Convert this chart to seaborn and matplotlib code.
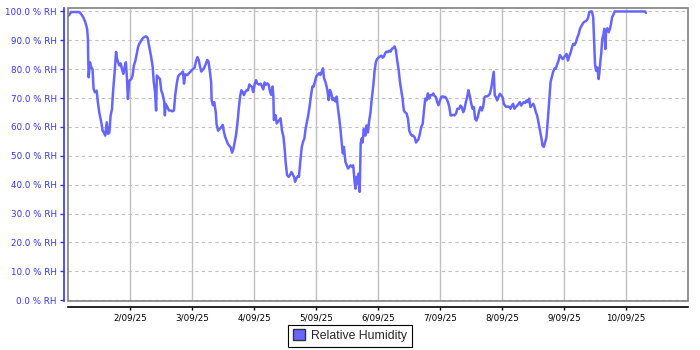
import numpy as np
import pandas as pd
import matplotlib
matplotlib.use("Agg")
import matplotlib.pyplot as plt
import matplotlib.dates as mdates
import seaborn as sns
from matplotlib.patches import Patch, Rectangle
from matplotlib.ticker import FuncFormatter

# hours since 1/09/25 00:00
hours = [
    0, 0.5, 1.2, 4.4, 5.0, 5.9, 6.7, 7.4, 7.7, 7.8, 8.0, 8.5, 9.0, 9.5, 9.9, 10.4, 11.1, 11.5, 12.1, 12.8,
    13.4, 13.9, 14.4, 15.0, 15.5, 16.0, 16.5, 17.0, 17.5, 18.1, 18.6, 19.0, 19.4, 19.9, 20.4, 20.9, 21.4,
    21.9, 22.4, 22.8, 23.2, 23.7, 24.5, 25.0, 25.5, 26.1, 26.6, 27.1, 27.6, 28.4, 29.1, 30.2, 30.8, 31.5,
    32.1, 32.8, 33.2, 33.7, 34.1, 34.4, 34.9, 35.6, 36.1, 36.6, 37.2, 37.5,
    37.8, 38.4, 39.1, 39.7, 40.4, 41.0, 41.5, 42.1, 42.6, 43.2, 43.9, 44.5, 44.9, 45.4, 46.2, 46.8, 47.5,
    48.3, 49.0, 49.5, 50.1, 50.6, 51.1, 51.6, 52.1, 52.6, 53.2, 53.9, 54.4, 55.0, 55.4, 55.6, 56.1, 56.6,
    57.2, 57.5, 58.1, 58.7, 59.3, 59.9, 60.4, 60.9, 61.4, 61.9, 62.4, 63.0, 63.5, 64.0, 64.5, 65.0, 65.5,
    66.1, 66.6, 67.1, 67.6, 68.1, 68.6, 69.2, 69.7, 70.2, 70.7, 71.2, 71.7, 72.3, 72.8, 73.3, 73.9, 74.6,
    75.6, 76.1, 76.6, 77.2, 77.7, 78.2, 78.7, 79.2, 79.5, 79.7, 80.3, 80.8, 81.3, 81.8, 82.3, 82.8, 83.4,
    83.9, 84.3, 84.8, 85.4, 85.9, 86.5, 87.0, 87.5, 87.9, 88.4, 88.9, 89.4, 89.9, 90.5, 91.0, 91.5, 92.0,
    92.5, 93.0, 93.5, 94.1, 94.6, 95.1, 95.6, 96.1, 96.6, 97.2, 97.7, 98.2, 98.7, 99.1, 99.6, 100.1, 100.5,
    100.9, 101.4, 101.9, 102.4, 103.0, 103.5, 104.0, 104.5, 105.0, 105.5, 106.1, 106.4, 106.8, 107.4,
    107.9, 108.4, 108.9, 109.4, 109.9, 110.4, 111.0, 111.3, 111.7, 112.1, 112.5, 112.9, 113.3, 113.7,
    114.0, 114.5, 115.1, 115.6, 116.1, 116.6, 117.1, 117.6, 118.2, 118.7, 119.2, 119.7, 120.2, 120.7,
    121.3, 121.8, 122.3, 122.8, 123.3, 123.8, 124.4, 124.9, 125.4, 125.9, 126.4, 126.9, 127.4, 128.0,
    128.5, 129.0, 129.5, 130.0, 130.5, 131.1, 131.6, 132.1, 132.6, 133.1, 133.6, 134.2, 134.7, 135.2,
    135.7, 136.2, 136.7, 137.3, 137.8, 138.3, 138.8, 139.3, 139.8, 140.3, 140.9, 141.4, 141.9, 142.4,
    142.9, 143.4, 144.0, 144.5, 145.0, 145.5, 146.0, 146.5, 147.1, 147.6, 148.1, 148.6, 149.1, 149.6,
    150.2, 150.7,
    151.4, 151.9, 152.4, 153.0, 153.5, 154.0, 154.5, 155.0, 155.5, 156.1, 156.6, 157.1, 157.6, 158.1,
    158.6, 159.2, 159.7, 160.2, 160.7, 161.2, 161.7, 162.3, 162.8, 163.3, 163.8, 164.3, 164.8, 165.2,
    165.7, 166.1, 166.6, 167.2, 167.7, 168.2, 168.7, 169.2, 169.7, 170.3, 170.8, 171.3, 171.8, 172.3,
    172.8, 173.3, 173.9, 174.4, 174.9, 175.4, 175.9, 176.4, 177.0, 177.5, 178.0, 178.5, 179.0, 179.5,
    180.1, 180.6, 181.1, 181.6, 182.1, 182.6, 183.2, 183.7, 184.2, 184.7, 185.2, 185.7, 186.2, 186.8,
    187.3, 187.8, 188.3, 188.8,
    189.4, 189.9, 190.4, 191.0, 191.5, 192.0, 192.5, 193.0, 193.5, 194.1, 194.6, 195.1, 195.6, 196.1,
    196.6, 197.2, 197.7, 198.2, 198.7, 199.2, 199.7, 200.3, 200.8, 201.3, 201.8, 202.3, 202.8, 203.3,
    203.7, 204.0, 204.4, 204.9, 205.4, 205.7, 206.1, 206.4, 206.8, 207.2, 207.6, 208.0, 208.3, 208.8,
    209.3, 209.8, 210.2, 210.6, 211.1, 211.6, 223.4, 223.7,
]

rh = [
    98.5, 98.8, 99.8, 99.8, 99.2, 98.0, 96.3, 94.0, 90.5, 84.7, 77.2, 82.4, 80.7, 80.0, 73.2, 72.0, 72.6, 69.0, 65.0, 62.0,
    58.7, 58.0, 57.0, 61.6, 57.6, 58.0, 64.0, 66.0, 73.0, 79.5, 86.0, 83.6, 82.4, 81.3, 82.0, 80.0, 78.4,
    80.7, 82.4, 77.2, 69.7, 76.0, 76.6, 77.8, 81.3, 83.0, 85.3, 87.6, 88.8, 90.0, 90.9, 91.4, 90.9, 87.6,
    84.7, 80.7, 75.5, 72.0, 65.7, 77.8, 77.2, 76.6, 72.6, 71.4, 69.0, 64.0,
    68.0, 67.0, 65.7, 65.7, 65.4, 65.7, 71.0, 75.0, 77.4, 78.2, 78.6, 79.2, 75.0, 78.2, 78.0, 78.6, 79.2,
    80.0, 80.5, 82.6, 84.2, 83.2, 80.9, 79.2, 79.7, 80.3, 81.5, 83.2, 82.6, 78.6, 75.6, 69.2, 67.5, 68.6,
    65.1, 61.0, 58.7, 59.3, 59.9, 60.7, 58.1, 56.4, 55.2, 54.1, 53.5, 52.9, 51.1, 52.3, 54.6, 57.0, 60.5,
    66.3, 70.4, 72.7, 72.1, 71.0, 72.1, 72.7, 72.7, 74.7, 74.2, 73.9, 72.1, 75.0, 76.2, 75.0, 74.7, 75.0,
    73.0, 75.4, 74.6, 75.1, 74.6, 72.2, 71.1, 74.0, 70.5, 62.4, 64.1, 61.2, 61.8, 62.4, 63.0, 58.9, 56.6,
    52.0, 47.3, 43.3, 42.7, 43.3, 44.4, 43.6, 42.7, 41.0, 42.1, 42.9, 42.7, 47.9, 53.1, 54.9, 56.0, 59.5,
    61.8, 64.1, 67.0, 71.1, 74.0, 74.0, 75.7, 77.5, 78.0, 78.6, 78.0, 79.2, 80.3, 76.9, 75.7, 74.0, 72.2,
    69.3, 72.8, 71.7, 69.3, 69.9, 68.8, 70.5, 66.4, 63.0, 58.9, 53.1, 50.8, 53.1, 47.9,
    46.7, 45.6, 46.2, 46.7, 46.2, 46.7, 40.4, 38.6, 42.7, 40.4, 43.8, 37.5, 54.3, 56.0,
    54.6, 59.3, 57.0, 60.5, 58.1, 62.2, 65.1, 69.8, 74.5, 79.7, 82.6, 83.6, 84.0, 84.4,
    84.7, 84.0, 84.4, 85.6, 86.1, 85.9, 86.4, 86.1, 87.1, 87.3, 87.9, 86.7, 83.2, 79.7,
    75.6, 72.7, 69.8, 65.7, 65.1, 64.6, 62.8, 58.7, 57.6, 57.0, 57.0, 56.4, 54.6, 55.2,
    55.8, 57.6, 59.9, 61.1, 65.7, 69.8, 69.2, 71.6, 69.8, 71.0, 71.0, 71.6, 70.7, 70.4,
    68.6, 67.5, 69.2, 70.4, 70.6, 70.4, 70.4, 69.8, 68.6, 66.9, 64.0, 64.0, 64.2, 64.0,
    64.6, 66.3,
    66.3, 67.4, 66.9, 65.1, 66.3, 68.6, 70.3, 72.7, 70.9, 68.0, 66.3, 66.9, 62.8, 62.2,
    63.4, 65.7, 66.9, 65.7, 66.9, 70.3, 70.6, 70.6, 70.9, 71.5, 73.3, 76.2, 79.1, 70.9,
    70.3, 69.2, 70.3, 71.5, 70.9, 70.3, 68.0, 67.4, 66.9, 67.1, 66.9, 66.3, 67.4, 68.0,
    66.3, 66.9, 67.4, 68.0, 68.6, 67.4, 68.0, 68.6, 68.3, 69.2, 68.6, 69.8, 66.9, 67.4,
    68.0, 66.9, 65.1, 64.0, 61.6, 59.3, 56.4, 53.5, 53.1, 54.7, 56.4, 62.2, 68.0, 75.6,
    77.3, 79.1, 80.2, 80.2,
    81.8, 83.0, 84.9, 84.1, 83.5, 84.1, 84.7, 85.3, 83.0, 84.7, 85.9, 87.6, 88.8, 88.4,
    89.3, 91.1, 92.2, 94.0, 94.9, 95.7, 96.3, 96.6, 96.9, 97.7, 99.8, 100.0, 100.0, 98.0,
    88.2, 81.8, 79.5, 80.6, 76.6, 78.9, 83.0, 85.3, 90.5, 91.7, 94.0, 87.0, 93.4, 94.2,
    92.8, 94.0, 95.7, 98.0, 98.8, 100.0, 100.0, 99.5,
]

start_date = "2025-09-01"
day_ticks = pd.date_range("2025-09-02", "2025-09-10", freq="D")
y_ticks = list(range(0, 101, 10))
series_name = "Relative Humidity"

sns.set_style("white")
plt.rcParams["font.family"] = ["DejaVu Sans"]

start = pd.Timestamp(start_date)
df = pd.DataFrame({"time": start + pd.to_timedelta(hours, unit="h"), "rh": rh})

fig = plt.figure(figsize=(7, 3.5), dpi=100)
ax = fig.add_axes([68 / 700, 1 - 301 / 350, 620 / 700, 293 / 350])

sns.lineplot(data=df, x="time", y="rh", ax=ax, color="#6666FF", lw=1.8, legend=False, zorder=3)

ax.set_xlim(start, start + pd.Timedelta(days=10))
ax.set_ylim(-0.3, 101.2)
ax.set_yticks(y_ticks)
ax.set_xticks(day_ticks)
ax.yaxis.set_major_formatter(FuncFormatter(lambda v, p: f"{v:.1f} % RH"))


def fmt_date(v, p):
    d = mdates.num2date(v)
    return f"{d.day}/{d.month:02d}/{d.year % 100:02d}"


ax.xaxis.set_major_formatter(FuncFormatter(fmt_date))
ax.set_xlabel("")
ax.set_ylabel("")

ax.yaxis.grid(True, color="#c0c0c0", lw=0.8, ls=(0, (3, 3)), zorder=0)
ax.xaxis.grid(True, color="#c0c0c0", lw=1.0, ls="-", zorder=0)

for s in ["top", "right"]:
    ax.spines[s].set_visible(False)
ax.spines["left"].set_position(("outward", 3))
ax.spines["left"].set_color("#3333FF")
ax.spines["left"].set_linewidth(1.2)
ax.spines["bottom"].set_position(("outward", 4))
ax.spines["bottom"].set_color("black")
ax.spines["bottom"].set_linewidth(1.2)

ax.add_patch(Rectangle((0, 0), 1, 1, transform=ax.transAxes, fill=False,
                       ec="#808080", lw=1.2, clip_on=False, zorder=4))

ax.tick_params(axis="y", colors="#3333FF", labelcolor="#3333FF", length=3, width=1,
               pad=2, labelsize=6.3, direction="out", left=True)
ax.tick_params(axis="x", colors="black", length=2, width=1, pad=3, labelsize=6.3,
               direction="out", bottom=True)

leg = fig.legend(handles=[Patch(facecolor="#6666FF", edgecolor="#333333", label=series_name)],
                 loc="lower center", bbox_to_anchor=(0.5, 3 / 350), borderaxespad=0,
                 frameon=True, fancybox=False, edgecolor="black", framealpha=1,
                 prop={"family": "Liberation Sans", "size": 8.8},
                 handlelength=1.0, handleheight=1.0, borderpad=0.4, handletextpad=0.5)
leg.get_frame().set_linewidth(0.8)

fig.savefig("out.png", dpi=100)
